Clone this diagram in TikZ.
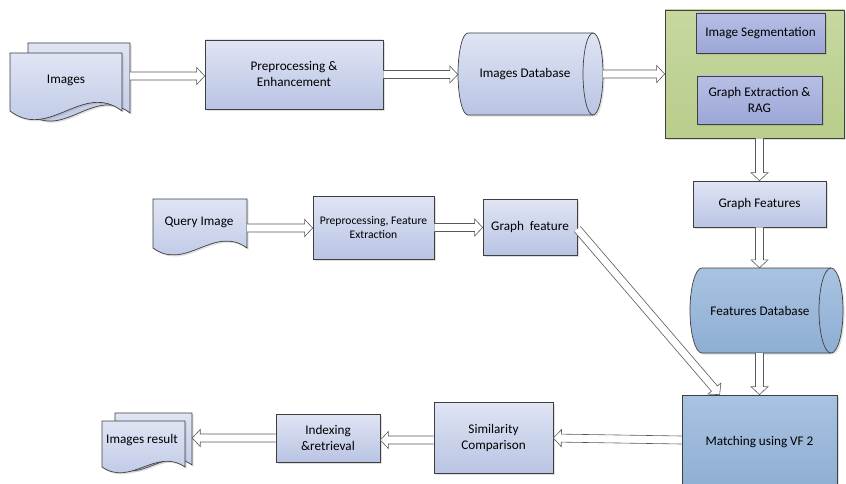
\documentclass[tikz,border=0pt]{standalone}
\usepackage{fontspec}
\setmainfont{Carlito}
\usetikzlibrary{arrows.meta,calc,shadows}
\definecolor{boxline}{HTML}{3F3F3F}
\definecolor{arrline}{HTML}{5A5A5A}
\definecolor{lbtop}{HTML}{E0E5F4}
\definecolor{lbbot}{HTML}{B9C4E4}
\definecolor{sgtop}{HTML}{B7BFE4}
\definecolor{sgbot}{HTML}{9CA7D8}
\definecolor{grtop}{HTML}{C6D89F}
\definecolor{grbot}{HTML}{B9CD8C}
\definecolor{bltop}{HTML}{A9C3E1}
\definecolor{blbot}{HTML}{8EAED4}
\tikzset{
  shad/.style={drop shadow={shadow xshift=1.6pt, shadow yshift=-1.6pt, opacity=0.25}},
  boxst/.style={draw=boxline, line width=0.7pt, top color=lbtop, bottom color=lbbot,
    align=center, inner sep=0pt, shad, font=\fontsize{13.2}{16}\selectfont},
  segst/.style={boxst, top color=sgtop, bottom color=sgbot},
  greenst/.style={boxst, top color=grtop, bottom color=grbot},
  bluest/.style={boxst, top color=bltop, bottom color=blbot},
  shapest/.style={draw=boxline, line width=0.7pt, shad},
  txt/.style={align=center, inner sep=0pt, font=\fontsize{13.2}{16}\selectfont},
  anch/.style={inner sep=0pt, draw=none},
  arrst/.style={draw=arrline, fill=white, line width=0.6pt, line join=miter},
}
% hollow block arrow from #1 to #2
\newcommand\blockarrow[2]{%
  \path let \p1=(#1), \p2=(#2),
    \n1={atan2(\y2-\y1,\x2-\x1)}, \n2={veclen(\x2-\x1,\y2-\y1)} in
    [arrst, shift={(\p1)}, rotate=\n1]
    (0pt,-4pt) -- (\n2-8pt,-4pt) -- (\n2-8pt,-8.5pt) -- (\n2,0pt)
    -- (\n2-8pt,8.5pt) -- (\n2-8pt,4pt) -- (0pt,4pt);
}
\newcommand\docshape[7]{% x0 y0 x1 yb d top bot
  \pgfmathsetmacro\dwa{#3-(#3-#1)*0.35}
  \pgfmathsetmacro\dwb{#1+(#3-#1)*0.35}
  \pgfmathsetmacro\dya{#4-#5}
  \pgfmathsetmacro\dyb{#4+#5}
  \path[shapest, top color=#6, bottom color=#7] (#1,#2) -- (#3,#2) -- (#3,#4)
     .. controls (\dwa,\dya) and (\dwb,\dyb) .. (#1,#4) -- cycle;
}
\newcommand\cylshape[7]{% cx cy w h rx top bot
  \pgfmathsetmacro\cxl{#1-#3/2+#5}
  \pgfmathsetmacro\cxr{#1+#3/2-#5}
  \pgfmathsetmacro\cyt{#2-#4/2}
  \pgfmathsetmacro\cyb{#2+#4/2}
  \pgfmathsetmacro\cry{#4/2}
  \path[shapest, top color=#6, bottom color=#7] (\cxl,\cyt) -- (\cxr,\cyt)
     arc[start angle=90, end angle=-90, x radius=#5pt, y radius=\cry pt]
     -- (\cxl,\cyb)
     arc[start angle=270, end angle=90, x radius=#5pt, y radius=\cry pt] -- cycle;
  \draw[boxline, line width=0.7pt] (\cxr,\cyt)
     arc[start angle=90, end angle=270, x radius=#5pt, y radius=\cry pt];
}
\begin{document}
\begin{tikzpicture}[x=1pt, y=-1pt]
\useasboundingbox[fill=white] (0,0) rectangle (846,484);

% ---- top row ----
\docshape{28}{43}{130}{113}{28}{lbtop}{lbbot}
\docshape{10}{53}{122}{111}{30}{lbtop}{lbbot}
\node[txt] (imgs) at (66,80) {Images};
\node[anch, minimum width=102pt, minimum height=70pt] (imgsback) at (79,78) {};

\node[boxst, minimum width=178pt, minimum height=69pt] (pre) at (294,74.5) {Preprocessing \&\\Enhancement};

\cylshape{530.5}{74}{145}{82}{10}{lbtop}{lbbot}
\node[anch, minimum width=145pt, minimum height=82pt] (imgdb) at (530.5,74) {};
\node[txt] (imgdbt) at (525,74) {Images Database};

\node[greenst, minimum width=179pt, minimum height=128pt] (green) at (754.5,74) {};
\node[segst, minimum width=129pt, minimum height=40pt] (seg) at (760.5,33) {Image Segmentation};
\node[segst, minimum width=125pt, minimum height=48pt] (gea) at (759.5,100) {Graph Extraction \&\\RAG};

% ---- right column ----
\node[boxst, minimum width=133pt, minimum height=46pt] (gfs) at (759.5,204) {Graph Features};
\cylshape{766.5}{310.5}{153}{85}{12}{bltop}{blbot}
\node[anch, minimum width=153pt, minimum height=85pt] (fdb) at (766.5,310.5) {};
\node[txt] (fdbt) at (760,311) {Features Database};
\node[bluest, minimum width=155pt, minimum height=94pt] (match) at (759.5,442) {Matching using VF 2};

% ---- query row ----
\docshape{153}{199}{247}{248}{24}{lbtop}{lbbot}
\node[txt] (query) at (199,222) {Query Image};
\node[anch, minimum width=94pt, minimum height=49pt] (queryb) at (200,223.5) {};
\node[boxst, minimum width=121pt, minimum height=63pt, font=\fontsize{11.6}{14.5}\selectfont] (pfe) at (373.5,227.5) {Preprocessing, Feature\\Extraction};
\node[boxst, minimum width=94pt, minimum height=56pt] (gfe) at (530,227) {Graph\ \ feature};

% ---- bottom row ----
\node[boxst, minimum width=119pt, minimum height=71pt] (sim) at (493.5,437.5) {Similarity\\Comparison};
\node[boxst, minimum width=104pt, minimum height=48pt] (idx) at (328,438) {Indexing\\\&retrieval};
\docshape{115}{413}{192}{465}{20}{lbtop}{lbbot}
\docshape{102}{421}{185}{467}{20}{lbtop}{lbbot}
\node[txt] (res) at (142,440) {Images result};
\node[anch, minimum width=77pt, minimum height=52pt] (resb) at (153.5,439) {};

% ---- connectors ----
\coordinate (a1s) at (imgsback.east |- 0,76);
\coordinate (a1e) at (pre.west |- 0,76);
\coordinate (a2e) at (imgdb.west |- pre.east);
\coordinate (a3e) at (green.west |- imgdb.east);
\coordinate (a4s) at (gfs.north |- green.south);
\coordinate (a5e) at (gfs.south |- fdb.north);
\coordinate (a6s) at (gfs.south |- fdb.south);
\coordinate (a6e) at (gfs.south |- match.north);
\coordinate (a7s) at ($(gfe.east)+(0,2)$);
\coordinate (a7e) at ($(match.north west)+(38,0)$);
\coordinate (a8s) at (match.west |- 0,440);
\coordinate (a8e) at (sim.east |- 0,438);
\coordinate (a9s) at (sim.west |- 0,440);
\coordinate (a9e) at (idx.east |- 0,440);
\coordinate (a10e) at (resb.east |- idx.west);
\coordinate (q1s) at (queryb.east |- 0,228);
\coordinate (q1e) at (pfe.west |- 0,228);
\coordinate (q2e) at (gfe.west |- pfe.east);
\blockarrow{a1s}{a1e}
\blockarrow{pre.east}{a2e}
\blockarrow{imgdb.east}{a3e}
\blockarrow{a4s}{gfs.north}
\blockarrow{gfs.south}{a5e}
\blockarrow{a6s}{a6e}
\blockarrow{a7s}{a7e}
\blockarrow{a8s}{a8e}
\blockarrow{a9s}{a9e}
\blockarrow{idx.west}{a10e}
\blockarrow{q1s}{q1e}
\blockarrow{pfe.east}{q2e}
\end{tikzpicture}
\end{document}
